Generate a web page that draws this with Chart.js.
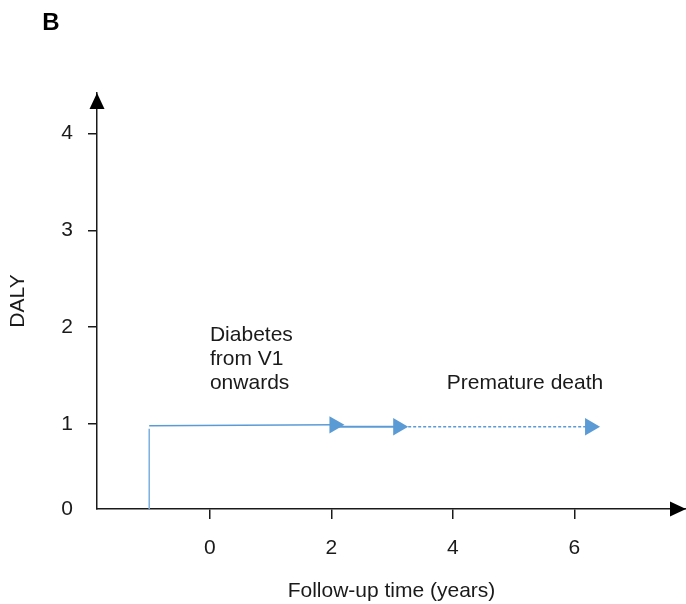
<!DOCTYPE html>
<html>
<head>
<meta charset="utf-8">
<script src="https://cdn.jsdelivr.net/npm/chart.js@4"></script>
<style>
  html, body { margin: 0; padding: 0; background: #fff; overflow: hidden; }
  #wrap { width: 686px; height: 604px; }
  canvas { display: block; }
</style>
</head>
<body>
<div id="wrap"><canvas id="dalyChart"></canvas></div>
<script>
// values
const xTicks = [0, 2, 4, 6];
const yTicks = [0, 1, 2, 3, 4];
const yTickLabels = ["0", "1", "2", "3", "4"];

const riseX = [-1, -1];
const riseY = [0, 0.95];
const diabetesX = [-1, 2.05];
const diabetesY = [0.98, 0.99];
const bridgeX = [2.05, 3.1];
const bridgeY = [0.97, 0.97];
const deathX = [3.1, 6.26];
const deathY = [0.97, 0.97];

const noteLines = [["Diabetes", "from V1", "onwards"], ["Premature death"]];
const noteX = [0, 3.9];
const noteY = [1.92, 1.42];

const blue = "#5B9BD5";
const ink = "#1a1a1a";
const font = "Liberation Sans, Arial, sans-serif";

function pts(xs, ys) {
  return xs.map((x, i) => ({ x: x, y: ys[i] }));
}

const extras = {
  id: "extras",
  afterDraw(chart) {
    const ctx = chart.ctx;
    const a = chart.chartArea;
    const xs = chart.scales.x, ys = chart.scales.y;
    ctx.save();
    // axis arrow heads
    ctx.fillStyle = "#000";
    ctx.beginPath();
    ctx.moveTo(a.left, a.top);
    ctx.lineTo(a.left - 7.5, a.top + 16);
    ctx.lineTo(a.left + 7.5, a.top + 16);
    ctx.closePath();
    ctx.fill();
    ctx.beginPath();
    ctx.moveTo(a.right, a.bottom);
    ctx.lineTo(a.right - 16, a.bottom - 7.5);
    ctx.lineTo(a.right - 16, a.bottom + 7.5);
    ctx.closePath();
    ctx.fill();
    // notes
    ctx.fillStyle = ink;
    ctx.font = "21px " + font;
    ctx.textAlign = "left";
    ctx.textBaseline = "middle";
    noteLines.forEach((lines, i) => {
      const px = xs.getPixelForValue(noteX[i]);
      const py = ys.getPixelForValue(noteY[i]);
      lines.forEach((t, j) => ctx.fillText(t, px, py + j * 24));
    });
    // panel letter
    ctx.font = "bold 24px " + font;
    ctx.textAlign = "center";
    ctx.fillStyle = "#000";
    ctx.fillText("B", 51, 23);
    ctx.restore();
  }
};

const arrowPoint = {
  pointStyle: "triangle",
  rotation: 90,
  pointRadius: [0, 10],
  pointHoverRadius: [0, 10],
  pointBackgroundColor: blue,
  pointBorderWidth: 0
};

new Chart(document.getElementById("dalyChart"), {
  type: "scatter",
  data: {
    datasets: [
      { data: pts(riseX, riseY), showLine: true, borderColor: "#7aaee0", borderWidth: 1.5, pointRadius: 0 },
      Object.assign({ data: pts(diabetesX, diabetesY), showLine: true, borderColor: blue, borderWidth: 1.5 }, arrowPoint),
      Object.assign({ data: pts(bridgeX, bridgeY), showLine: true, borderColor: blue, borderWidth: 2 }, arrowPoint),
      Object.assign({ data: pts(deathX, deathY), showLine: true, borderColor: blue, borderWidth: 1.5, borderDash: [3, 2] }, arrowPoint)
    ]
  },
  options: {
    responsive: true,
    maintainAspectRatio: false,
    animation: false,
    layout: { autoPadding: false, padding: { top: 93, right: 0, left: 0, bottom: 0 } },
    plugins: { legend: { display: false }, tooltip: { enabled: false } },
    scales: {
      x: {
        type: "linear",
        min: -1.86,
        max: 7.84,
        afterBuildTicks: (s) => { s.ticks = xTicks.map((v) => ({ value: v })); },
        afterFit: (s) => { s.height = 95; s.paddingLeft = 0; s.paddingRight = 0; },
        border: { display: true, color: ink, width: 1.5 },
        grid: { drawOnChartArea: false, drawTicks: true, tickLength: 10, color: ink, lineWidth: 1.5 },
        ticks: { color: ink, padding: 17, font: { size: 21, family: font }, maxRotation: 0 },
        title: { display: true, text: "Follow-up time (years)", color: ink, font: { size: 21, family: font }, padding: { top: 0, bottom: 0 } }
      },
      y: {
        type: "linear",
        min: 0.12,
        max: 4.42,
        afterBuildTicks: (s) => { s.ticks = yTicks.map((v) => ({ value: Math.max(v, s.min) })); },
        afterFit: (s) => { s.width = 97; s.paddingTop = 0; s.paddingBottom = 0; },
        border: { display: true, color: ink, width: 1.5 },
        grid: {
          drawOnChartArea: false,
          drawTicks: true,
          tickLength: 9,
          lineWidth: 1.5,
          color: (c) => (c.tick && c.tick.value <= 0.12 ? "rgba(0,0,0,0)" : ink)
        },
        ticks: {
          color: ink,
          padding: 15,
          font: { size: 21, family: font },
          callback: (v, i) => yTickLabels[i]
        },
        title: { display: true, text: "DALY", color: ink, font: { size: 21, family: font }, padding: { top: 6, bottom: 0 } }
      }
    }
  },
  plugins: [extras]
});
</script>
</body>
</html>
